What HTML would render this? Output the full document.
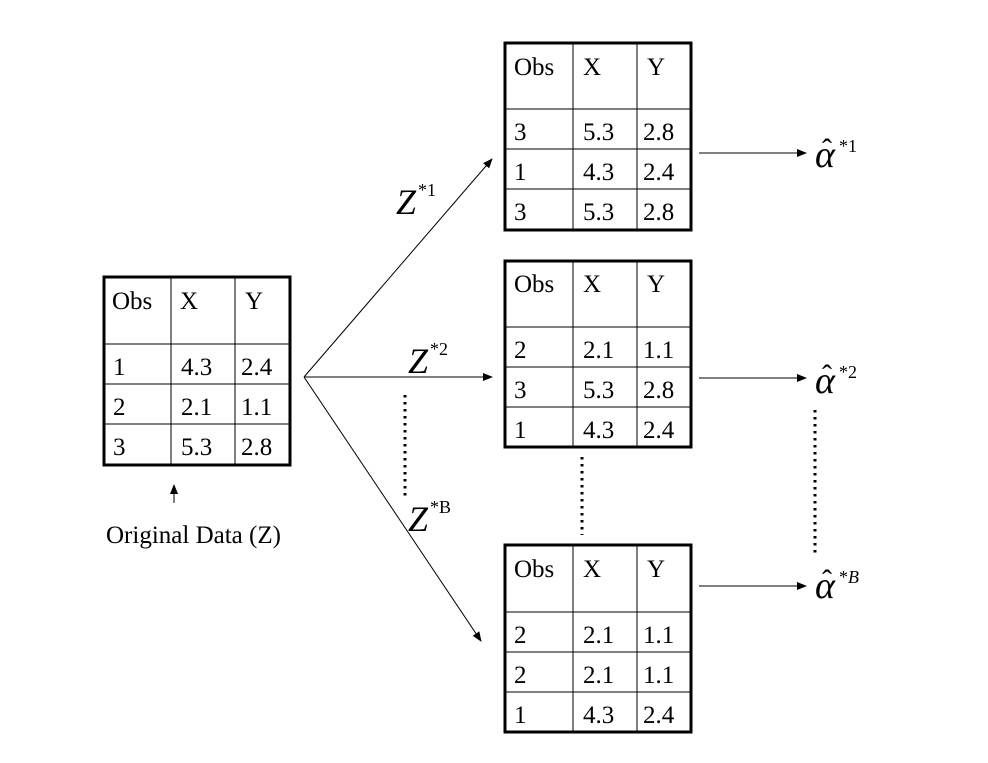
<!DOCTYPE html>
<html><head><style>
html,body{margin:0;padding:0;background:#fff;}
svg text{font-family:"Liberation Serif","Times New Roman",serif;fill:#000;}
</style></head><body>
<svg width="988" height="758" viewBox="0 0 988 758" xmlns="http://www.w3.org/2000/svg">
<defs>
<marker id="ah" markerWidth="10" markerHeight="8" refX="9" refY="4" orient="auto" markerUnits="userSpaceOnUse">
<path d="M0,0 L10,4 L0,8 z" fill="#000"/>
</marker>
</defs>
<g font-size="25">
<!-- Left table -->
<g>
<rect x="104" y="277" width="186" height="188" fill="none" stroke="#000" stroke-width="3"/>
<line x1="171" y1="277" x2="171" y2="465" stroke="#000"/>
<line x1="235" y1="277" x2="235" y2="465" stroke="#000"/>
<line x1="104" y1="344" x2="290" y2="344" stroke="#000"/>
<line x1="104" y1="384" x2="290" y2="384" stroke="#000"/>
<line x1="104" y1="424" x2="290" y2="424" stroke="#000"/>
<text x="112" y="309">Obs</text><text x="180" y="309">X</text><text x="245" y="309">Y</text>
<text x="113" y="375">1</text><text x="181" y="375">4.3</text><text x="241" y="375">2.4</text>
<text x="113" y="415">2</text><text x="181" y="415">2.1</text><text x="241" y="415">1.1</text>
<text x="113" y="455">3</text><text x="181" y="455">5.3</text><text x="241" y="455">2.8</text>
</g>
<line x1="174" y1="503" x2="174" y2="485" stroke="#000" marker-end="url(#ah)"/>
<text x="106" y="543">Original Data (Z)</text>

<!-- Top right table -->
<g>
<rect x="505" y="43" width="186" height="187" fill="none" stroke="#000" stroke-width="3"/>
<line x1="573" y1="43" x2="573" y2="230" stroke="#000"/>
<line x1="637" y1="43" x2="637" y2="230" stroke="#000"/>
<line x1="505" y1="109" x2="691" y2="109" stroke="#000"/>
<line x1="505" y1="149" x2="691" y2="149" stroke="#000"/>
<line x1="505" y1="189" x2="691" y2="189" stroke="#000"/>
<text x="514" y="75">Obs</text><text x="583" y="75">X</text><text x="647" y="75">Y</text>
<text x="514" y="140">3</text><text x="583" y="140">5.3</text><text x="643" y="140">2.8</text>
<text x="514" y="180">1</text><text x="583" y="180">4.3</text><text x="643" y="180">2.4</text>
<text x="514" y="220">3</text><text x="583" y="220">5.3</text><text x="643" y="220">2.8</text>
</g>
<!-- Middle table -->
<g>
<rect x="505" y="261" width="186" height="186" fill="none" stroke="#000" stroke-width="3"/>
<line x1="573" y1="261" x2="573" y2="447" stroke="#000"/>
<line x1="637" y1="261" x2="637" y2="447" stroke="#000"/>
<line x1="505" y1="327" x2="691" y2="327" stroke="#000"/>
<line x1="505" y1="367" x2="691" y2="367" stroke="#000"/>
<line x1="505" y1="407" x2="691" y2="407" stroke="#000"/>
<text x="514" y="292">Obs</text><text x="583" y="292">X</text><text x="647" y="292">Y</text>
<text x="514" y="358">2</text><text x="583" y="358">2.1</text><text x="643" y="358">1.1</text>
<text x="514" y="398">3</text><text x="583" y="398">5.3</text><text x="643" y="398">2.8</text>
<text x="514" y="438">1</text><text x="583" y="438">4.3</text><text x="643" y="438">2.4</text>
</g>
<!-- Bottom table -->
<g>
<rect x="505" y="545" width="186" height="187" fill="none" stroke="#000" stroke-width="3"/>
<line x1="573" y1="545" x2="573" y2="732" stroke="#000"/>
<line x1="637" y1="545" x2="637" y2="732" stroke="#000"/>
<line x1="505" y1="612" x2="691" y2="612" stroke="#000"/>
<line x1="505" y1="652" x2="691" y2="652" stroke="#000"/>
<line x1="505" y1="692" x2="691" y2="692" stroke="#000"/>
<text x="514" y="577">Obs</text><text x="583" y="577">X</text><text x="647" y="577">Y</text>
<text x="514" y="643">2</text><text x="583" y="643">2.1</text><text x="643" y="643">1.1</text>
<text x="514" y="683">2</text><text x="583" y="683">2.1</text><text x="643" y="683">1.1</text>
<text x="514" y="723">1</text><text x="583" y="723">4.3</text><text x="643" y="723">2.4</text>
</g>
</g>

<!-- fan lines -->
<line x1="304" y1="377" x2="492" y2="159" stroke="#000" stroke-width="1" marker-end="url(#ah)"/>
<line x1="304" y1="377" x2="492" y2="377" stroke="#000" stroke-width="1" marker-end="url(#ah)"/>
<line x1="304" y1="377" x2="481" y2="641" stroke="#000" stroke-width="1" marker-end="url(#ah)"/>

<!-- arrows to alpha -->
<line x1="699" y1="153" x2="806" y2="153" stroke="#000" marker-end="url(#ah)"/>
<line x1="699" y1="378" x2="806" y2="378" stroke="#000" marker-end="url(#ah)"/>
<line x1="699" y1="586" x2="806" y2="586" stroke="#000" marker-end="url(#ah)"/>

<!-- dots -->
<line x1="405" y1="395" x2="405" y2="500" stroke="#000" stroke-width="3" stroke-dasharray="2.5,4.5"/>
<line x1="582" y1="457" x2="582" y2="535" stroke="#000" stroke-width="3" stroke-dasharray="2.5,4.5"/>
<line x1="815" y1="410" x2="815" y2="555" stroke="#000" stroke-width="3" stroke-dasharray="2.5,4.5"/>

<!-- Z labels -->
<text x="396" y="214" font-size="36" font-style="italic">Z</text><text x="418" y="196" font-size="18">*1</text>
<text x="408" y="373" font-size="36" font-style="italic">Z</text><text x="430" y="355" font-size="18">*2</text>
<text x="408" y="531" font-size="36" font-style="italic">Z</text><text x="430" y="513" font-size="18">*B</text>

<!-- alphas -->
<text x="815" y="167" font-size="38" font-style="italic">α</text><text x="822" y="159" font-size="30">ˆ</text><text x="839" y="152" font-size="18">*1</text>
<text x="815" y="393" font-size="38" font-style="italic">α</text><text x="822" y="385" font-size="30">ˆ</text><text x="839" y="378" font-size="18">*2</text>
<text x="815" y="598" font-size="38" font-style="italic">α</text><text x="822" y="590" font-size="30">ˆ</text><text x="839" y="583" font-size="18">*<tspan font-style="italic">B</tspan></text>
</svg>
</body></html>
